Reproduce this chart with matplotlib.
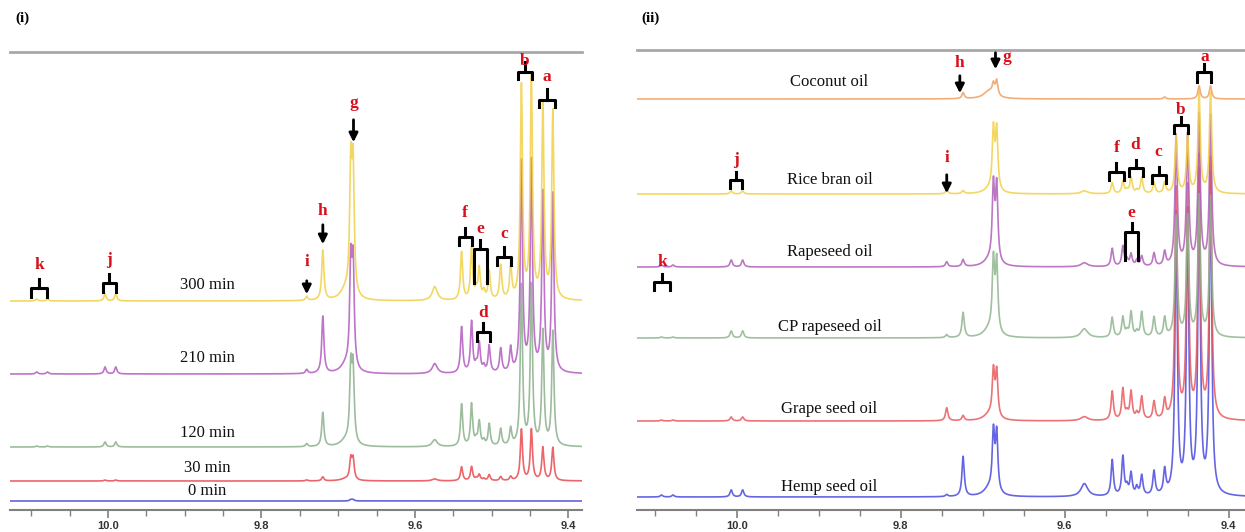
import numpy as np
import matplotlib
matplotlib.use("Agg")
import matplotlib.pyplot as plt
from matplotlib.ticker import MultipleLocator

# ---- panel (i): oxidation time series ----
shifts_i = [10.093, 10.079, 10.004, 9.990, 9.741, 9.720, 9.6835, 9.6805,
            9.539, 9.526, 9.520, 9.516, 9.510, 9.503, 9.488, 9.475,
            9.461, 9.448, 9.433, 9.420]
times = ["0 min", "30 min", "120 min", "210 min", "300 min"]
h_0 = [0, 0, 0, 0, 0, 0, 1.5, 1.5, 0, 0, 0, 0, 0, 0, 0, 0, 0, 0, 0, 0]
h_30 = [0, 0, 1, 1, 1, 4, 20, 20, 14, 14, 2, 6, 2, 6, 4, 4, 51, 51, 33, 33]
h_120 = [1, 1, 5, 5, 3, 34, 72, 72, 42, 42, 5, 24, 5, 22, 17, 17, 160, 160, 114, 114]
h_210 = [2, 2, 7, 7, 4, 57, 100, 100, 46, 51, 6, 29, 6, 27, 24, 24, 210, 210, 178, 178]
h_300 = [2, 2, 7, 7, 4, 50, 122, 122, 48, 51, 8, 31, 8, 28, 34, 33, 213, 219, 192, 188]
broad_i = [9.690, 9.574]
broad_w_i = [0.008, 0.004]
bh_i = [[0, 0], [2, 2], [6, 7], [8, 10], [10, 14]]

# ---- panel (ii): different oils ----
shifts_ii = [10.092, 10.078, 10.007, 9.993, 9.744, 9.724, 9.687, 9.683,
             9.542, 9.529, 9.524, 9.519, 9.512, 9.506, 9.491, 9.478,
             9.464, 9.450, 9.436, 9.422]
oils = ["Hemp seed oil", "Grape seed oil", "CP rapeseed oil",
        "Rapeseed oil", "Rice bran oil", "Coconut oil"]
h_hemp = [2, 2, 7, 7, 2, 40, 58, 58, 36, 39, 8, 22, 8, 20, 24, 24, 280, 280, 320, 320]
h_grape = [1, 1, 4, 4, 13, 5, 45, 45, 29, 31, 6, 28, 6, 23, 18, 19, 230, 230, 260, 260]
h_cp = [1, 1, 7, 7, 3, 25, 70, 70, 20, 20, 5, 25, 5, 25, 20, 19, 120, 120, 140, 140]
h_rape = [2, 2, 7, 7, 5, 7, 75, 75, 18, 20, 6, 12, 6, 10, 13, 14, 130, 130, 150, 150]
h_rice = [0, 0, 3, 3, 4, 3, 60, 60, 11, 12, 3, 16, 3, 16, 11, 11, 57, 57, 100, 100]
h_coco = [0, 0, 0, 0, 0, 6, 10, 15, 0, 0, 0, 0, 0, 0, 0, 2, 0, 0, 13, 13]
broad_ii = [9.692, 9.576]
broad_w_ii = [0.008, 0.005]
bh_ii = [[8, 13], [6, 4], [8, 9], [6, 4], [4, 3], [8, 0]]

# stacking offsets (vertical, in axis units)
offsets_i = [9, 29, 63, 136, 209]
offsets_ii = [13, 89, 172, 243, 316, 411]
colors_i = ["#4848d8", "#e84a50", "#8cb08c", "#b25cc0", "#f2d048"]
colors_ii = ["#4a4ae0", "#e85a5e", "#8fb58f", "#b060b8", "#f2d048", "#f0a060"]

# annotations: label, left ppm, right ppm, label y, bar y, leg y, stem y
brackets_i = [("k", 10.100, 10.080, 245, 222, 213, 231),
              ("j", 10.007, 9.990, 250, 227, 218, 236),
              ("f", 9.543, 9.526, 297, 273, 265, 282),
              ("e", 9.523, 9.506, 281, 261, 227, 270),
              ("c", 9.493, 9.475, 276, 253, 245, 263),
              ("b", 9.466, 9.447, 449, 438, 431, 448),
              ("a", 9.438, 9.417, 433, 410, 403, 421),
              ("d", 9.519, 9.502, 197, 178, 169, 187)]
arrows_i = [("i", 9.741, 248, 232, 213),
            ("h", 9.720, 299, 288, 263),
            ("g", 9.680, 407, 393, 365)]
brackets_ii = [("k", 10.101, 10.082, 248, 228, 220, 236),
               ("j", 10.009, 9.994, 350, 330, 322, 338),
               ("a", 9.438, 9.421, 453, 438, 428, 446),
               ("b", 9.467, 9.450, 400, 385, 377, 393),
               ("f", 9.546, 9.528, 362, 338, 330, 347),
               ("d", 9.522, 9.505, 365, 342, 334, 350),
               ("c", 9.494, 9.477, 358, 335, 327, 343),
               ("e", 9.526, 9.511, 297, 278, 250, 287)]
arrows_ii = [("i", 9.744, 352, 338, 314),
             ("h", 9.728, 447, 437, 414)]

RED = "#d8101c"
SERIF = ["Liberation Serif", "DejaVu Serif"]


def spectrum(x, shifts, heights, width=0.0017):
    y = np.zeros_like(x)
    for s, h in zip(shifts, heights):
        y += h / (1 + ((x - s) / width) ** 2)
    return y


def style_axis(ax, xlim, ylim):
    ax.set_xlim(*xlim)
    ax.set_ylim(*ylim)
    ax.set_yticks([])
    for side in ["left", "right"]:
        ax.spines[side].set_visible(False)
    ax.spines["top"].set_color("#a8a8a8")
    ax.spines["top"].set_linewidth(2)
    ax.spines["bottom"].set_color("#808080")
    ax.spines["bottom"].set_linewidth(1.5)
    ax.xaxis.set_major_locator(MultipleLocator(0.2))
    ax.xaxis.set_minor_locator(MultipleLocator(0.05))
    ax.tick_params(axis="x", which="major", length=6, width=1.2, color="#808080",
                   labelsize=8, labelcolor="#333333", pad=2)
    ax.tick_params(axis="x", which="minor", length=4, width=1.0, color="#808080")
    ax.set_xticklabels([f"{t:.1f}" for t in ax.get_xticks()])
    for lab in ax.get_xticklabels():
        lab.set_fontweight("bold")
        lab.set_fontfamily(["Liberation Sans", "DejaVu Sans"])
    ax.patch.set_alpha(0)


def draw_bracket(ax, label, x1, x2, ylab, ybar, yleg, ystem):
    xm = (x1 + x2) / 2
    ax.plot([x1, x1, x2, x2], [yleg, ybar, ybar, yleg], color="black", lw=2.2,
            solid_joinstyle="round", zorder=20)
    ax.plot([xm, xm], [ybar, ystem], color="black", lw=2.2, zorder=20)
    ax.text(xm, ylab, label, color=RED, fontsize=12.5, fontweight="bold",
            family=SERIF, ha="center", va="center", zorder=21)


def draw_arrow(ax, label, x, ylab, ytop, ybot):
    ax.annotate("", xy=(x, ybot), xytext=(x, ytop),
                arrowprops=dict(arrowstyle="-|>", color="black", lw=2,
                                mutation_scale=13), zorder=20)
    ax.text(x, ylab, label, color=RED, fontsize=12.5, fontweight="bold",
            family=SERIF, ha="center", va="center", zorder=21)


def draw_panel(ax, shifts, rows, offsets, colors, broad, broad_w, bheights, xlim):
    x = np.linspace(xlim[1], xlim[0], 6000)
    for k, (heights, off, col) in enumerate(zip(rows, offsets, colors)):
        y = spectrum(x, shifts, heights)
        for s, w, h in zip(broad, broad_w, bheights[k]):
            y += h / (1 + ((x - s) / w) ** 2)
        ax.plot(x, y + off, color=col, lw=1.2, alpha=0.85, zorder=2 + k)


if __name__ == "__main__":
    fig = plt.figure(figsize=(12.45, 5.32), dpi=100)

    xlim_i = (10.128, 9.382)
    ax1 = fig.add_axes([10 / 1245, 22 / 532, 572 / 1245, 458 / 532])
    draw_panel(ax1, shifts_i, [h_0, h_30, h_120, h_210, h_300], offsets_i,
               colors_i, broad_i, broad_w_i, bh_i, xlim_i)
    style_axis(ax1, xlim_i, (0, 458))
    row_y_i = [19, 42, 77, 152, 225]
    for name, yy in zip(times, row_y_i):
        ax1.text(9.871, yy, name, fontsize=12, family=SERIF, ha="center",
                 va="center", color="#111111")
    for b in brackets_i:
        draw_bracket(ax1, *b)
    for a in arrows_i:
        draw_arrow(ax1, *a)

    xlim_ii = (10.122, 9.380)
    ax2 = fig.add_axes([637 / 1245, 22 / 532, 608 / 1245, 460 / 532])
    draw_panel(ax2, shifts_ii, [h_hemp, h_grape, h_cp, h_rape, h_rice, h_coco],
               offsets_ii, colors_ii, broad_ii, broad_w_ii, bh_ii, xlim_ii)
    style_axis(ax2, xlim_ii, (0, 460))
    row_y_ii = [23, 101, 183, 258, 330, 428]
    for name, yy in zip(oils, row_y_ii):
        ax2.text(9.887, yy, name, fontsize=12, family=SERIF, ha="center",
                 va="center", color="#111111")
    for b in brackets_ii:
        draw_bracket(ax2, *b)
    for a in arrows_ii:
        draw_arrow(ax2, *a)
    # g arrow with its label to the right
    ax2.annotate("", xy=(9.6845, 438), xytext=(9.6845, 460),
                 arrowprops=dict(arrowstyle="-|>", color="black", lw=2,
                                 mutation_scale=13), zorder=20, annotation_clip=False)
    ax2.text(9.670, 453, "g", color=RED, fontsize=12.5, fontweight="bold",
             family=SERIF, ha="center", va="center", zorder=21)

    fig.text(22 / 1245, 1 - 18 / 532, "(i)", fontsize=11, fontweight="bold",
             family=SERIF, ha="center", va="center")
    fig.text(651 / 1245, 1 - 18 / 532, "(ii)", fontsize=11, fontweight="bold",
             family=SERIF, ha="center", va="center")

    fig.savefig("out.png", dpi=100)
